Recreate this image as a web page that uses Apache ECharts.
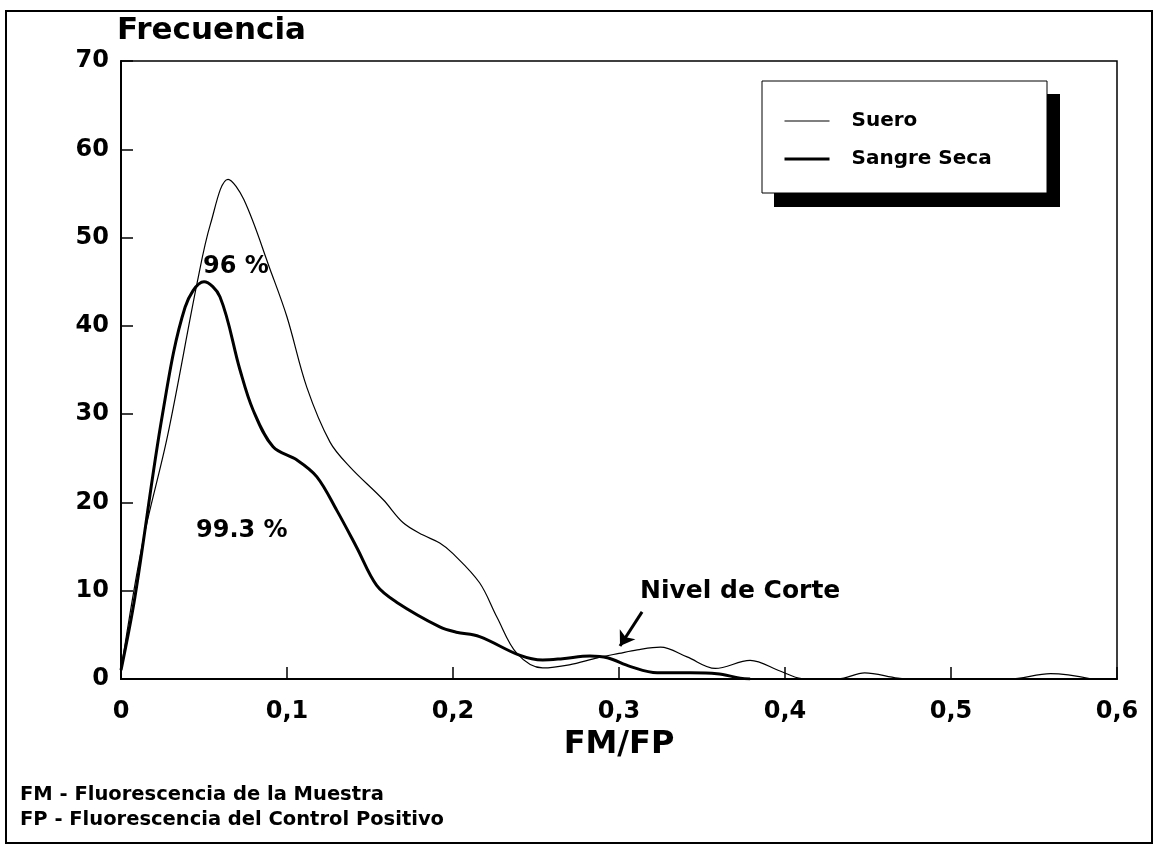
<!DOCTYPE html>
<html>
<head>
<meta charset="utf-8">
<script src="https://cdn.jsdelivr.net/npm/echarts@6/dist/echarts.min.js"></script>
<style>
html,body{margin:0;padding:0;background:#fff;}
#chart{width:1154px;height:844px;}
</style>
</head>
<body>
<div id="chart"></div>
<script>
// ---- data ----
const seriesNames = ['Suero', 'Sangre Seca'];
const xTicks = [0, 0.1, 0.2, 0.3, 0.4, 0.5, 0.6];
const yTicks = [0, 10, 20, 30, 40, 50, 60, 70];
const suero = [
  [0,1],[0.013,15.4],[0.028,27.5],[0.046,45],[0.054,51.6],[0.0645,56.6],[0.074,54.3],
  [0.09,46.3],[0.1,41],[0.112,33],[0.126,26.8],[0.138,24],[0.158,20.3],[0.17,17.7],
  [0.182,16.3],[0.192,15.4],[0.2,14.2],[0.216,10.9],[0.2265,7],[0.2385,2.9],[0.254,1.25],
  [0.27,1.6],[0.287,2.4],[0.3,2.9],[0.311,3.3],[0.325,3.6],[0.341,2.5],[0.358,1.2],
  [0.379,2.1],[0.397,0.9],[0.41,0.05],[0.42,0],[0.432,0],[0.448,0.7],[0.468,0.1],
  [0.48,0],[0.535,0],[0.56,0.6],[0.585,0]
];
const sangreSeca = [
  [0,1],[0.0084,9.3],[0.025,30],[0.0386,42.1],[0.05,45],[0.0596,43.3],[0.0717,35],
  [0.0795,30.5],[0.0916,26.3],[0.106,24.8],[0.118,22.9],[0.13,19.1],[0.142,14.9],
  [0.154,10.6],[0.166,8.7],[0.192,5.9],[0.202,5.3],[0.216,4.8],[0.24,2.7],[0.254,2.15],
  [0.266,2.3],[0.2825,2.6],[0.293,2.4],[0.307,1.4],[0.323,0.7],[0.343,0.7],[0.359,0.6],
  [0.373,0.1],[0.379,0]
];
const lineWidths = [1.2, 3];
const cutArrow = [[0.3139, 7.6], [0.3006, 3.74]];
const titleText = 'Frecuencia';
const xName = 'FM/FP';
const notes = ['FM - Fluorescencia de la Muestra', 'FP - Fluorescencia del Control Positivo'];
const annotations = ['96 %', '99.3 %', 'Nivel de Corte'];

const FONT = 'DejaVu Sans';
const chart = echarts.init(document.getElementById('chart'));
const fmtX = v => (Math.abs(v) < 1e-9 ? '0' : v.toFixed(1).replace('.', ','));

chart.setOption({
  animation: false,
  backgroundColor: '#fff',
  grid: { left: 121, right: 37, top: 61, bottom: 165, show: true, borderColor: '#000', borderWidth: 1.5, containLabel: false },
  xAxis: {
    type: 'value', min: xTicks[0], max: xTicks[xTicks.length - 1], interval: 0.1,
    name: xName, nameLocation: 'middle', nameGap: 47,
    nameTextStyle: { fontFamily: FONT, fontSize: 32, fontWeight: 'bold', color: '#000' },
    axisLine: { lineStyle: { color: '#000', width: 2 } },
    axisTick: { inside: true, length: 12, lineStyle: { color: '#000', width: 1.5 } },
    axisLabel: { formatter: fmtX, fontFamily: FONT, fontSize: 24, fontWeight: 'bold', color: '#000', margin: 21 },
    splitLine: { show: false }
  },
  yAxis: {
    type: 'value', min: yTicks[0], max: yTicks[yTicks.length - 1], interval: 10,
    axisLine: { show: true, lineStyle: { color: '#000', width: 2 } },
    axisTick: { show: true, inside: true, length: 12, lineStyle: { color: '#000', width: 1.5 } },
    axisLabel: { fontFamily: FONT, fontSize: 24, fontWeight: 'bold', color: '#000', margin: 12 },
    splitLine: { show: false }
  },
  legend: {
    orient: 'vertical', left: 783, top: 111, itemWidth: 45, itemHeight: 14, itemGap: 18,
    padding: 0, z: 10,
    itemStyle: { opacity: 0 },
    textStyle: { fontFamily: FONT, fontSize: 20, fontWeight: 'bold', color: '#000', padding: [0, 0, 0, 17] },
    data: seriesNames.map((n, i) => ({ name: n, lineStyle: { width: lineWidths[i], color: '#000' } }))
  },
  graphic: [
    { type: 'rect', shape: { x: 6, y: 11, width: 1146, height: 832 }, style: { fill: 'none', stroke: '#000', lineWidth: 2 }, z: 0 },
    { type: 'rect', shape: { x: 774, y: 94, width: 286, height: 113 }, style: { fill: '#000' }, z: 1 },
    { type: 'rect', shape: { x: 762, y: 81, width: 285, height: 112 }, style: { fill: '#fff', stroke: '#000', lineWidth: 1 }, z: 2 },
    { type: 'text', left: 117, top: 15, style: { text: titleText, fontFamily: FONT, fontSize: 31, fontWeight: 'bold', fill: '#000' }, z: 5 },
    { type: 'text', left: 203, top: 255, style: { text: annotations[0], fontFamily: FONT, fontSize: 24, fontWeight: 'bold', fill: '#000' }, z: 5 },
    { type: 'text', left: 196, top: 519, style: { text: annotations[1], fontFamily: FONT, fontSize: 24, fontWeight: 'bold', fill: '#000' }, z: 5 },
    { type: 'text', left: 640, top: 579, style: { text: annotations[2], fontFamily: FONT, fontSize: 25, fontWeight: 'bold', fill: '#000' }, z: 5 },
    { type: 'text', left: 20, top: 785, style: { text: notes[0], fontFamily: FONT, fontSize: 19.5, fontWeight: 'bold', fill: '#000' }, z: 5 },
    { type: 'text', left: 20, top: 810, style: { text: notes[1], fontFamily: FONT, fontSize: 19.5, fontWeight: 'bold', fill: '#000' }, z: 5 }
  ],
  series: [
    {
      name: seriesNames[0], type: 'line', data: suero, smooth: 0.35, symbol: 'none',
      lineStyle: { color: '#000', width: lineWidths[0] }, itemStyle: { color: '#000' }, z: 3
    },
    {
      name: seriesNames[1], type: 'line', data: sangreSeca, smooth: 0.35, symbol: 'none',
      lineStyle: { color: '#000', width: lineWidths[1] }, itemStyle: { color: '#000' }, z: 3,
      markLine: {
        silent: true, symbol: ['none', 'arrow'], symbolSize: 14, animation: false, precision: 4,
        lineStyle: { color: '#000', width: 3, type: 'solid' }, label: { show: false },
        data: [[{ coord: cutArrow[0] }, { coord: cutArrow[1] }]]
      }
    }
  ]
});
</script>
</body>
</html>
